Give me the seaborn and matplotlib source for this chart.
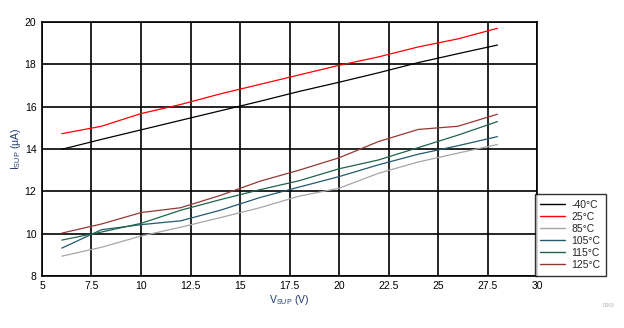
import matplotlib
matplotlib.use("Agg")
import matplotlib.pyplot as plt
import seaborn as sns
import pandas as pd

# Supply voltage sweep (V)
vsup = [6, 8, 10, 12, 14, 16, 18, 20, 22, 24, 26, 28]

# Supply current (uA) per temperature
i_m40 = [13.98, 14.45, 14.90, 15.35, 15.80, 16.25, 16.72, 17.15, 17.60, 18.08, 18.50, 18.91]
i_25 = [14.72, 15.07, 15.67, 16.10, 16.60, 17.05, 17.50, 17.95, 18.35, 18.82, 19.20, 19.70]
i_85 = [8.93, 9.35, 9.88, 10.30, 10.75, 11.22, 11.77, 12.14, 12.85, 13.38, 13.80, 14.21]
i_105 = [9.31, 10.18, 10.42, 10.60, 11.10, 11.70, 12.20, 12.69, 13.25, 13.75, 14.15, 14.58]
i_115 = [9.69, 10.07, 10.48, 11.10, 11.60, 12.07, 12.50, 13.06, 13.48, 14.06, 14.65, 15.29]
i_125 = [10.02, 10.45, 10.99, 11.22, 11.80, 12.47, 13.00, 13.58, 14.35, 14.92, 15.07, 15.64]

temps = ["-40°C", "25°C", "85°C", "105°C", "115°C", "125°C"]
series = [i_m40, i_25, i_85, i_105, i_115, i_125]
colors = ["#000000", "#ff0000", "#a6a6a6", "#215a6e", "#1f6446", "#953735"]

rows = []
for t, vals in zip(temps, series):
    for v, i in zip(vsup, vals):
        rows.append({"VSUP": v, "ISUP": i, "Temp": t})
df = pd.DataFrame(rows)

sns.set_theme(style="white")
plt.rcParams["font.family"] = ["Liberation Sans", "DejaVu Sans"]

fig = plt.figure(figsize=(6.24, 3.28), dpi=100)
ax = fig.add_axes([0.0673, 0.159, 0.7933, 0.774])

sns.lineplot(data=df, x="VSUP", y="ISUP", hue="Temp", hue_order=temps,
             palette=colors, linewidth=0.9, ax=ax, legend=True)

ax.set_xlim(5, 30)
ax.set_ylim(8, 20)
ax.set_xticks([5, 7.5, 10, 12.5, 15, 17.5, 20, 22.5, 25, 27.5, 30])
ax.set_xticklabels(["5", "7.5", "10", "12.5", "15", "17.5", "20", "22.5", "25", "27.5", "30"])
ax.set_yticks([8, 10, 12, 14, 16, 18, 20])
ax.tick_params(axis="both", labelsize=7.5, length=0, pad=4, colors="#000000")
ax.grid(True, color="#000000", linewidth=1.2)
ax.set_axisbelow(True)
for s in ax.spines.values():
    s.set_color("#000000")
    s.set_linewidth(1.2)

ax.set_xlabel(r"V$_{\mathregular{SUP}}$ (V)", fontsize=7.5, color="#1f3b6e", labelpad=1)
ax.set_ylabel(r"I$_{\mathregular{SUP}}$ ($\mathregular{\mu}$A)", fontsize=7.5, color="#1f3b6e", labelpad=1)

leg = ax.legend(loc="lower left", bbox_to_anchor=(0.995, 0.0), fontsize=7.5,
                frameon=True, fancybox=False, borderpad=0.55, labelspacing=0.2,
                handlelength=2.4, handletextpad=0.6, borderaxespad=0)
leg.get_frame().set_edgecolor("#000000")
leg.get_frame().set_linewidth(1.0)
for line in leg.get_lines():
    line.set_linewidth(1.0)

fig.text(0.985, 0.065, "D003", fontsize=3.5, color="#b0b0b0", ha="right")

fig.savefig("out.png", dpi=100)
